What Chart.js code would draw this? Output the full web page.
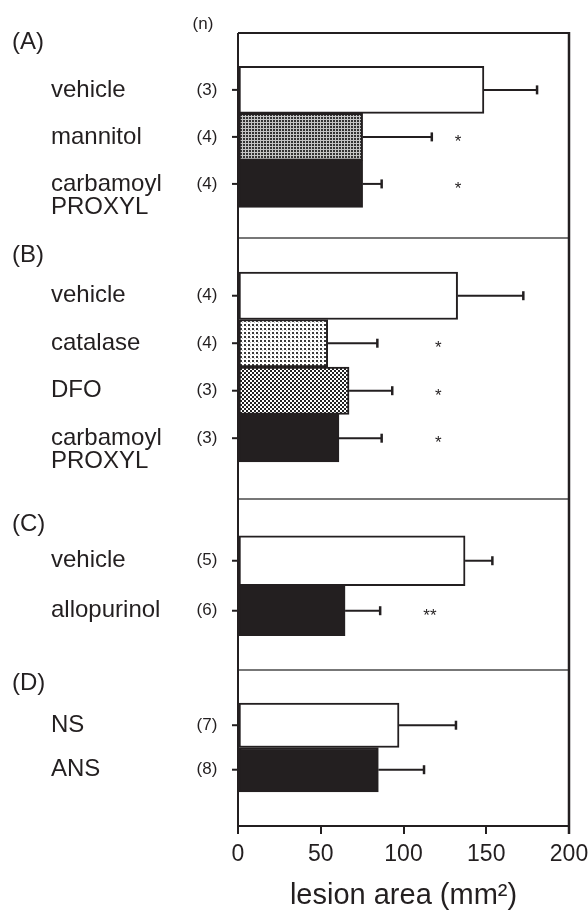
<!DOCTYPE html>
<html>
<head>
<meta charset="utf-8">
<script src="https://cdn.jsdelivr.net/npm/chart.js@4.4.1/dist/chart.umd.min.js"></script>
<style>
  html, body { margin: 0; padding: 0; background: #ffffff; }
  #wrap { width: 588px; height: 912px; position: relative; }
</style>
</head>
<body>
<div id="wrap"><canvas id="chart" width="588" height="912"></canvas></div>
<script>
// ---------------- data ----------------
const panelLetters = ['(A)', '(B)', '(C)', '(D)'];
const nHeader = '(n)';

const groupsA = ['vehicle', 'mannitol', ['carbamoyl', 'PROXYL']];
const nA = ['(3)', '(4)', '(4)'];
const meanA = [148.6, 75.3, 75.3];
const semA = [32.1, 41.8, 11.5];
const sigA = ['', '*', '*'];

const groupsB = ['vehicle', 'catalase', 'DFO', ['carbamoyl', 'PROXYL']];
const nB = ['(4)', '(4)', '(3)', '(3)'];
const meanB = [132.7, 54.2, 67.1, 61.0];
const semB = [39.7, 30.0, 26.1, 25.8];
const sigB = ['', '*', '*', '*'];

const groupsC = ['vehicle', 'allopurinol'];
const nC = ['(5)', '(6)'];
const meanC = [137.2, 64.7];
const semC = [16.5, 21.2];
const sigC = ['', '**'];

const groupsD = ['NS', 'ANS'];
const nD = ['(7)', '(8)'];
const meanD = [97.3, 84.8];
const semD = [34.4, 27.6];
const sigD = ['', ''];

const xTicks = [0, 50, 100, 150, 200];
const xTitle = 'lesion area (mm\u00B2)';

// ---------------- layout / style (not data) ----------------
const INK = '#231f20';
const FONT = "'Liberation Sans', Arial, Helvetica, sans-serif";

const panels = [
  { groups: groupsA, n: nA, mean: meanA, sem: semA, sig: sigA },
  { groups: groupsB, n: nB, mean: meanB, sem: semB, sig: sigB },
  { groups: groupsC, n: nC, mean: meanC, sem: semC, sig: sigC },
  { groups: groupsD, n: nD, mean: meanD, sem: semD, sig: sigD }
];

const panelLayout = [
  { id: 'yA', stackWeight: 205, min: -1.21, max: 3.15, letterAt: -1.02, sigAt: 133, fills: ['white', 'mannitol', 'black'] },
  { id: 'yB', stackWeight: 261, min: -1.216, max: 4.279, letterAt: -0.84, sigAt: 121, fills: ['white', 'catalase', 'dfo', 'black'] },
  { id: 'yC', stackWeight: 171, min: -1.236, max: 2.184, letterAt: -0.72, sigAt: 116, fills: ['white', 'black'] },
  { id: 'yD', stackWeight: 156, min: -1.243, max: 2.263, letterAt: -0.93, sigAt: 116, fills: ['white', 'black'] }
];

function makePattern(size, draw) {
  const c = document.createElement('canvas');
  c.width = size; c.height = size;
  const g = c.getContext('2d');
  g.fillStyle = '#ffffff';
  g.fillRect(0, 0, size, size);
  draw(g);
  return g.createPattern(c, 'repeat');
}

const fillStyles = {
  white: '#ffffff',
  black: INK,
  mannitol: makePattern(3, g => { g.fillStyle = '#c4c4c4'; g.fillRect(0, 0, 3, 3); g.fillStyle = '#333333'; g.fillRect(0, 0, 2, 2); }),
  catalase: makePattern(4, g => { g.fillStyle = '#3a3a3a'; g.fillRect(0, 0, 2, 2); g.fillStyle = '#bbbbbb'; g.fillRect(2, 2, 1, 1); }),
  dfo: makePattern(4, g => { g.fillStyle = '#222222'; g.fillRect(0, 0, 2, 2); g.fillRect(2, 2, 2, 2); })
};

Chart.defaults.font.family = FONT;
Chart.defaults.color = INK;

const datasets = panels.map((p, k) => ({
  label: panelLetters[k],
  data: p.mean.map((v, i) => ({ x: v, y: i })),
  yAxisID: panelLayout[k].id,
  backgroundColor: panelLayout[k].fills.map(f => fillStyles[f]),
  borderColor: INK,
  borderWidth: 2,
  borderSkipped: false,
  grouped: false,
  barPercentage: 1,
  categoryPercentage: 1
}));

const scales = {
  x: {
    type: 'linear',
    position: 'bottom',
    min: 0,
    max: 200,
    afterBuildTicks: s => { s.ticks = xTicks.map(v => ({ value: v })); },
    afterFit: s => { s.paddingLeft = 0; s.paddingRight = 0; },
    ticks: { font: { family: FONT, size: 23 }, color: INK, padding: 7, maxRotation: 0 },
    grid: { display: true, drawOnChartArea: false, drawTicks: true, tickLength: 8, color: INK, lineWidth: 2 },
    border: { display: true, color: INK, width: 2 },
    title: {
      display: true, text: xTitle, color: INK,
      font: { family: FONT, size: 29, lineHeight: 1 },
      padding: { top: 6, bottom: 1.5 }
    }
  }
};
panelLayout.forEach((L, k) => {
  scales[L.id] = {
    type: 'linear',
    position: 'left',
    stack: 'panels',
    stackWeight: L.stackWeight,
    weight: panelLayout.length - k,
    reverse: true,
    offset: false,
    min: L.min,
    max: L.max,
    display: false,
    afterBuildTicks: s => { s.ticks = panels[k].mean.map((_, i) => ({ value: i })); }
  };
});

const decor = {
  id: 'decor',
  afterDatasetsDraw(chart) {
    const { ctx, chartArea: ca } = chart;
    const xs = chart.scales.x;
    ctx.save();
    ctx.strokeStyle = INK;
    ctx.lineCap = 'butt';
    // error bars
    panels.forEach((p, k) => {
      const ys = chart.scales[panelLayout[k].id];
      p.mean.forEach((m, i) => {
        const y = ys.getPixelForValue(i);
        const x1 = xs.getPixelForValue(m);
        const x2 = xs.getPixelForValue(m + p.sem[i]);
        ctx.lineWidth = 2;
        ctx.beginPath(); ctx.moveTo(x1, y); ctx.lineTo(x2, y); ctx.stroke();
        ctx.lineWidth = 2.5;
        ctx.beginPath(); ctx.moveTo(x2, y - 4.5); ctx.lineTo(x2, y + 4.5); ctx.stroke();
      });
    });
    // separators between panels
    ctx.strokeStyle = '#4a4a4a';
    ctx.lineWidth = 1.5;
    panelLayout.forEach((L, k) => {
      if (k === panelLayout.length - 1) return;
      const yb = chart.scales[L.id].bottom;
      ctx.beginPath(); ctx.moveTo(ca.left, yb); ctx.lineTo(ca.right, yb); ctx.stroke();
    });
    // frame
    ctx.strokeStyle = INK;
    ctx.lineWidth = 2;
    ctx.beginPath(); ctx.moveTo(ca.left, ca.top); ctx.lineTo(ca.right, ca.top); ctx.stroke();
    ctx.beginPath(); ctx.moveTo(ca.left, ca.top); ctx.lineTo(ca.left, ca.bottom); ctx.stroke();
    ctx.lineWidth = 2.5;
    ctx.beginPath(); ctx.moveTo(ca.right, ca.top - 1); ctx.lineTo(ca.right, ca.bottom + 8); ctx.stroke();
    // y tick marks
    ctx.lineWidth = 2;
    panels.forEach((p, k) => {
      const ys = chart.scales[panelLayout[k].id];
      p.mean.forEach((_, i) => {
        const y = ys.getPixelForValue(i);
        ctx.beginPath(); ctx.moveTo(ca.left - 6, y); ctx.lineTo(ca.left, y); ctx.stroke();
      });
    });
    ctx.restore();
  },
  afterDraw(chart) {
    const { ctx, chartArea: ca } = chart;
    const xs = chart.scales.x;
    ctx.save();
    ctx.fillStyle = INK;
    // (n) header
    ctx.font = `17px ${FONT}`;
    ctx.textAlign = 'center';
    ctx.textBaseline = 'middle';
    ctx.fillText(nHeader, 203, ca.top - 9);
    panels.forEach((p, k) => {
      const L = panelLayout[k];
      const ys = chart.scales[L.id];
      // panel letter
      ctx.font = `24px ${FONT}`;
      ctx.textAlign = 'left';
      ctx.textBaseline = 'middle';
      ctx.fillText(panelLetters[k], 12, ys.getPixelForValue(L.letterAt));
      p.groups.forEach((g, i) => {
        const y = ys.getPixelForValue(i);
        const lines = Array.isArray(g) ? g : [g];
        ctx.font = `24px ${FONT}`;
        ctx.textAlign = 'left';
        ctx.textBaseline = 'middle';
        lines.forEach((ln, j) => ctx.fillText(ln, 51, y + j * 23));
        ctx.font = `17px ${FONT}`;
        ctx.textAlign = 'center';
        ctx.fillText(p.n[i], 207, y);
        if (p.sig[i]) {
          ctx.font = `17px ${FONT}`;
          ctx.textBaseline = 'alphabetic';
          ctx.fillText(p.sig[i], xs.getPixelForValue(L.sigAt), y + 10);
        }
      });
    });
    ctx.restore();
  }
};

new Chart(document.getElementById('chart'), {
  type: 'bar',
  data: { datasets },
  options: {
    indexAxis: 'y',
    responsive: false,
    devicePixelRatio: 1,
    animation: false,
    layout: { padding: { left: 238, right: 19, top: 33, bottom: 0 } },
    plugins: { legend: { display: false }, tooltip: { enabled: false }, title: { display: false } },
    scales
  },
  plugins: [decor]
});
</script>
</body>
</html>
